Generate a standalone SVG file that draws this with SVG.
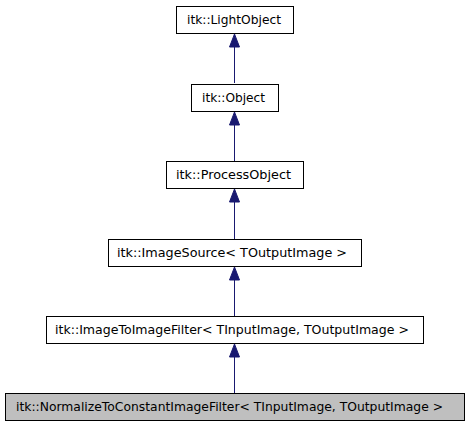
<svg xmlns="http://www.w3.org/2000/svg" width="469" height="427" viewBox="0 0 469 427">
<style>
.n rect{fill:#fff;stroke:#000;stroke-width:1}
.n.cur rect{fill:#bfbfbf}
.n text{font-family:"DejaVu Sans",sans-serif;font-size:12.3px;fill:#000}
.e line{stroke:#191970;stroke-width:1}
.e polygon{fill:#191970;stroke:#191970}
</style>
<rect width="469" height="427" fill="#fff"/>
<g id="connectors" class="e">
<line x1="234.5" y1="83" x2="234.5" y2="47"/><polygon points="234.5,34 229.5,47 239.5,47"/>
<line x1="234.5" y1="161" x2="234.5" y2="125"/><polygon points="234.5,112 229.5,125 239.5,125"/>
<line x1="234.5" y1="239" x2="234.5" y2="202"/><polygon points="234.5,189 229.5,202 239.5,202"/>
<line x1="234.5" y1="316" x2="234.5" y2="280"/><polygon points="234.5,267 229.5,280 239.5,280"/>
<line x1="234.5" y1="393" x2="234.5" y2="357"/><polygon points="234.5,344 229.5,357 239.5,357"/>
</g>
<g id="LightObject" class="n"><rect x="176.5" y="6.5" width="117" height="27"/><text x="187" y="24" textLength="94" lengthAdjust="spacingAndGlyphs">itk::LightObject</text></g>
<g id="Object" class="n"><rect x="191.5" y="84.5" width="87" height="27"/><text x="202" y="102" textLength="63" lengthAdjust="spacingAndGlyphs">itk::Object</text></g>
<g id="ProcessObject" class="n"><rect x="166.5" y="161.5" width="137" height="27"/><text x="176" y="179" textLength="115" lengthAdjust="spacingAndGlyphs">itk::ProcessObject</text></g>
<g id="ImageSource" class="n"><rect x="108.5" y="239.5" width="253" height="27"/><text x="117" y="257" textLength="230" lengthAdjust="spacingAndGlyphs">itk::ImageSource&lt; TOutputImage &gt;</text></g>
<g id="ImageToImageFilter" class="n"><rect x="46.5" y="316.5" width="377" height="27"/><text x="55" y="334" textLength="354" lengthAdjust="spacingAndGlyphs">itk::ImageToImageFilter&lt; TInputImage, TOutputImage &gt;</text></g>
<g id="NormalizeToConstantImageFilter" class="n cur"><rect x="5.5" y="393.5" width="459" height="27"/><text x="16" y="411" textLength="427" lengthAdjust="spacingAndGlyphs">itk::NormalizeToConstantImageFilter&lt; TInputImage, TOutputImage &gt;</text></g>
</svg>
